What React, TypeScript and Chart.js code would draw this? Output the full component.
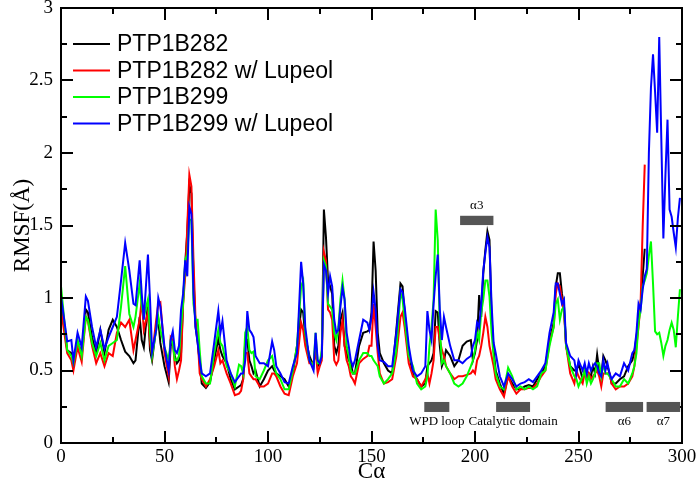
import React, { useEffect, useRef } from "react";
import { Chart, registerables } from "chart.js";

Chart.register(...registerables);

// Residue positions (Cα index)
const residues = [
  0, 3, 5, 6, 8, 10, 12, 13, 15, 17, 19, 21, 23, 25, 27, 29, 31, 33, 35, 36, 38, 39, 40, 42, 43, 44, 46, 47, 48,
  50, 52, 53, 54, 55, 56, 57, 58, 59, 60, 61, 62, 63, 64, 65, 66, 67, 68, 70, 72, 74, 76, 77, 78, 80, 82, 84, 86, 87, 88, 89, 90, 91, 92, 93, 94, 96, 98,
  100, 102, 103, 104, 106, 108, 110, 112, 114, 116, 117, 118, 120, 122, 123, 124, 125, 126, 127, 128, 129, 130, 131, 132, 133, 134, 135, 136, 137, 138, 139, 140, 141, 142, 144, 146, 148, 149,
  150, 151, 152, 153, 154, 156, 158, 160, 162, 164, 165, 166, 168, 170, 172, 174, 176, 177, 178, 179, 180, 181, 182, 183, 184, 185, 186, 188, 190, 192, 194, 196, 198, 199,
  200, 201, 202, 203, 204, 205, 206, 207, 208, 209, 210, 212, 214, 216, 218, 220, 222, 224, 226, 228, 230, 232, 234, 236, 238, 239, 240, 241, 242, 243, 244, 246, 248, 249,
  250, 252, 253, 254, 255, 256, 257, 258, 259, 260, 261, 262, 263, 264, 265, 266, 268, 270, 272, 274, 276, 277, 278, 279, 280, 281, 282,
  283, 284, 285, 286, 287, 288, 289, 290, 291, 292, 293, 294, 295, 296, 297, 298, 299,
];

const rmsfPTP1B282 = [
  1.00, 0.64, 0.62, 0.55, 0.70, 0.62, 0.92, 0.90, 0.73, 0.62, 0.78, 0.62, 0.78, 0.85, 0.80, 0.71, 0.63, 0.60, 0.55, 0.57, 0.87, 0.71, 0.66, 0.96, 0.64, 0.57, 0.80, 0.85, 0.69,
  0.53, 0.42, 0.67, 0.70, 0.60, 0.55, 0.57, 0.62, 0.98, 1.24, 1.45, 1.78, 1.72, 1.15, 0.80, 0.70, 0.55, 0.41, 0.38, 0.42, 0.57, 0.72, 0.64, 0.60, 0.55, 0.44, 0.37, 0.39, 0.40, 0.44, 0.70, 0.71, 0.57, 0.53, 0.48, 0.50, 0.39, 0.44,
  0.50, 0.53, 0.50, 0.48, 0.46, 0.44, 0.39, 0.48, 0.67, 0.92, 0.90, 0.73, 0.60, 0.53, 0.69, 0.53, 0.55, 0.60, 1.61, 1.42, 1.12, 1.08, 1.03, 0.67, 0.62, 0.67, 0.85, 0.90, 0.67, 0.62, 0.57, 0.55, 0.48, 0.48, 0.67, 0.76, 0.77, 0.78,
  0.90, 1.39, 1.19, 0.76, 0.62, 0.55, 0.50, 0.48, 0.78, 1.10, 1.08, 0.90, 0.62, 0.48, 0.44, 0.39, 0.41, 0.53, 0.55, 0.57, 0.62, 0.91, 0.90, 0.67, 0.53, 0.57, 0.64, 0.60, 0.53, 0.57, 0.67, 0.70, 0.71, 0.57,
  0.62, 0.71, 1.02, 0.87, 1.17, 1.33, 1.46, 1.40, 0.87, 0.64, 0.50, 0.41, 0.34, 0.46, 0.41, 0.37, 0.37, 0.39, 0.40, 0.39, 0.44, 0.48, 0.53, 0.71, 0.83, 1.08, 1.17, 1.17, 1.03, 0.94, 0.67, 0.53, 0.50, 0.50,
  0.55, 0.44, 0.50, 0.44, 0.48, 0.46, 0.53, 0.48, 0.61, 0.50, 0.46, 0.60, 0.57, 0.53, 0.48, 0.41, 0.41, 0.44, 0.46, 0.53, 0.57, 0.63, 0.73, 0.87, 0.96, 1.15, 1.34,
];

const rmsfPTP1B282Lupeol = [
  0.92, 0.62, 0.57, 0.50, 0.66, 0.56, 0.87, 0.84, 0.67, 0.55, 0.62, 0.53, 0.62, 0.60, 0.76, 0.83, 0.80, 0.85, 0.64, 0.71, 0.85, 0.99, 0.78, 0.90, 0.69, 0.60, 0.85, 0.96, 0.97,
  0.62, 0.46, 0.73, 0.71, 0.53, 0.44, 0.50, 0.57, 0.96, 1.15, 1.49, 1.85, 1.77, 1.26, 0.85, 0.73, 0.48, 0.44, 0.39, 0.44, 0.53, 0.64, 0.55, 0.57, 0.48, 0.41, 0.33, 0.34, 0.36, 0.44, 0.62, 0.62, 0.48, 0.46, 0.44, 0.44, 0.39, 0.39,
  0.41, 0.48, 0.48, 0.46, 0.39, 0.34, 0.33, 0.46, 0.55, 0.83, 0.78, 0.67, 0.55, 0.55, 0.64, 0.48, 0.53, 0.57, 1.32, 1.26, 0.92, 0.90, 0.85, 0.57, 0.54, 0.57, 0.76, 0.85, 0.67, 0.57, 0.53, 0.46, 0.44, 0.41, 0.55, 0.58, 0.60, 0.67,
  0.67, 0.96, 0.80, 0.62, 0.48, 0.41, 0.42, 0.44, 0.60, 0.87, 0.90, 0.80, 0.55, 0.46, 0.44, 0.39, 0.44, 0.48, 0.41, 0.48, 0.57, 0.80, 0.80, 0.71, 0.64, 0.60, 0.53, 0.48, 0.44, 0.46, 0.46, 0.47, 0.48, 0.50,
  0.48, 0.57, 0.60, 0.67, 0.76, 0.87, 0.80, 0.67, 0.60, 0.53, 0.44, 0.37, 0.32, 0.46, 0.39, 0.34, 0.37, 0.37, 0.38, 0.38, 0.41, 0.46, 0.50, 0.69, 0.80, 1.03, 1.10, 1.08, 0.99, 0.90, 0.67, 0.48, 0.41, 0.50,
  0.46, 0.41, 0.48, 0.44, 0.48, 0.44, 0.46, 0.48, 0.50, 0.46, 0.39, 0.48, 0.48, 0.48, 0.48, 0.41, 0.37, 0.39, 0.39, 0.41, 0.46, 0.53, 0.67, 0.80, 0.96, 1.49, 1.92,
];

const rmsfPTP1B299 = [
  1.08, 0.64, 0.60, 0.55, 0.71, 0.60, 0.87, 0.85, 0.69, 0.60, 0.69, 0.57, 0.67, 0.69, 0.71, 0.94, 1.22, 0.89, 0.80, 0.87, 1.10, 0.94, 0.87, 0.99, 0.76, 0.60, 0.78, 0.87, 0.78,
  0.66, 0.57, 0.71, 0.69, 0.57, 0.57, 0.60, 0.80, 0.96, 1.26, 1.30, 1.54, 1.54, 0.96, 0.85, 0.85, 0.64, 0.46, 0.41, 0.41, 0.62, 0.78, 0.69, 0.67, 0.53, 0.48, 0.39, 0.54, 0.53, 0.48, 0.76, 0.80, 0.64, 0.62, 0.63, 0.46, 0.44, 0.50,
  0.57, 0.60, 0.53, 0.48, 0.44, 0.37, 0.37, 0.50, 0.67, 1.08, 1.12, 0.76, 0.57, 0.53, 0.76, 0.55, 0.55, 0.64, 1.26, 1.22, 0.96, 0.94, 0.92, 0.76, 0.71, 0.80, 0.99, 1.12, 0.99, 0.67, 0.60, 0.50, 0.48, 0.48, 0.57, 0.62, 0.62, 0.60,
  0.60, 0.57, 0.55, 0.53, 0.46, 0.41, 0.44, 0.48, 0.64, 1.04, 0.99, 0.85, 0.60, 0.53, 0.41, 0.37, 0.39, 0.46, 0.67, 0.80, 0.99, 1.61, 1.40, 0.80, 0.55, 0.57, 0.53, 0.48, 0.41, 0.39, 0.41, 0.46, 0.53, 0.57,
  0.64, 0.76, 0.71, 0.90, 0.99, 1.12, 1.12, 1.01, 0.76, 0.60, 0.48, 0.39, 0.37, 0.52, 0.46, 0.37, 0.39, 0.37, 0.39, 0.37, 0.39, 0.48, 0.50, 0.67, 0.80, 0.96, 0.99, 0.85, 0.92, 0.94, 0.67, 0.53, 0.46, 0.44,
  0.39, 0.46, 0.50, 0.41, 0.46, 0.41, 0.44, 0.48, 0.55, 0.55, 0.46, 0.55, 0.48, 0.48, 0.46, 0.44, 0.39, 0.39, 0.44, 0.41, 0.48, 0.53, 0.62, 0.83, 0.92, 1.08, 1.12,
  1.17, 1.29, 1.39, 1.10, 0.77, 0.75, 0.76, 0.69, 0.60, 0.67, 0.71, 0.78, 0.83, 0.78, 0.66, 0.87, 1.06,
];

const rmsfPTP1B299Lupeol = [
  1.01, 0.70, 0.71, 0.57, 0.76, 0.66, 1.01, 0.98, 0.80, 0.66, 0.78, 0.65, 0.73, 0.80, 0.87, 1.12, 1.38, 1.19, 0.96, 0.95, 1.26, 1.03, 0.85, 1.30, 0.99, 0.63, 0.78, 1.00, 0.94,
  0.66, 0.50, 0.71, 0.77, 0.64, 0.62, 0.67, 0.92, 1.03, 1.26, 1.15, 1.63, 1.58, 1.03, 0.80, 0.69, 0.57, 0.48, 0.46, 0.48, 0.69, 0.91, 0.76, 0.84, 0.57, 0.48, 0.42, 0.46, 0.48, 0.48, 0.57, 0.91, 0.78, 0.76, 0.73, 0.60, 0.55, 0.55,
  0.53, 0.70, 0.64, 0.53, 0.48, 0.42, 0.41, 0.53, 0.62, 1.25, 1.10, 0.80, 0.57, 0.50, 0.76, 0.57, 0.55, 0.60, 1.23, 1.19, 1.03, 1.15, 1.08, 0.85, 0.76, 0.78, 0.94, 1.07, 0.99, 0.76, 0.67, 0.57, 0.53, 0.57, 0.71, 0.85, 0.83, 0.78,
  0.87, 1.04, 0.92, 0.67, 0.57, 0.56, 0.53, 0.53, 0.76, 1.06, 1.04, 0.94, 0.67, 0.50, 0.46, 0.48, 0.53, 0.91, 0.78, 0.71, 0.96, 1.15, 1.30, 0.92, 0.71, 0.87, 0.80, 0.67, 0.57, 0.57, 0.55, 0.58, 0.60, 0.67,
  0.71, 0.83, 0.80, 0.96, 1.19, 1.31, 1.42, 1.35, 0.96, 0.69, 0.62, 0.46, 0.39, 0.48, 0.44, 0.39, 0.41, 0.42, 0.44, 0.42, 0.46, 0.50, 0.55, 0.76, 0.90, 1.10, 1.10, 1.03, 0.96, 0.99, 0.69, 0.60, 0.57, 0.48,
  0.57, 0.50, 0.55, 0.48, 0.55, 0.50, 0.53, 0.55, 0.53, 0.48, 0.46, 0.57, 0.50, 0.55, 0.48, 0.44, 0.48, 0.46, 0.55, 0.50, 0.62, 0.64, 0.76, 0.96, 0.92, 1.06, 1.15,
  1.20, 2.00, 2.45, 2.68, 2.42, 2.14, 2.80, 2.10, 1.41, 1.85, 2.23, 1.61, 1.56, 1.45, 1.35, 1.55, 1.69,
];

const seriesLabels = ["PTP1B282", "PTP1B282 w/ Lupeol", "PTP1B299", "PTP1B299 w/ Lupeol"];
const seriesColors = ["#000000", "#ff0000", "#00ff00", "#0000ff"];

// Structural regions (residue ranges)
const regionLabels = ["WPD loop", "Catalytic domain", "α6", "α7", "α3"];
const regionStart = [175.5, 210.2, 263.1, 282.9, 192.8];
const regionEnd = [187.6, 226.6, 281.2, 299.1, 208.9];

const xTickValues = [0, 50, 100, 150, 200, 250, 300];
const yTickValues = [0, 0.5, 1, 1.5, 2, 2.5, 3];

function toPoints(values: number[]) {
  return values.map((v, i) => ({ x: residues[i], y: v }));
}

const framePlugin = {
  id: "frameTicks",
  afterDraw(chart: any) {
    const { ctx, chartArea: a, scales } = chart;
    const xs = scales.x;
    const ys = scales.y;
    ctx.save();
    ctx.strokeStyle = "#000";
    ctx.lineWidth = 2;
    ctx.strokeRect(a.left, a.top, a.right - a.left, a.bottom - a.top);
    ctx.beginPath();
    for (let v = 0; v <= 300; v += 25) {
      const px = Math.round(xs.getPixelForValue(v));
      const len = v % 50 === 0 ? 12 : 6;
      ctx.moveTo(px, a.bottom);
      ctx.lineTo(px, a.bottom - len);
      ctx.moveTo(px, a.top);
      ctx.lineTo(px, a.top + len);
    }
    for (let k = 0; k <= 12; k++) {
      const v = k * 0.25;
      const py = Math.round(ys.getPixelForValue(v));
      const len = k % 2 === 0 ? 12 : 6;
      ctx.moveTo(a.left, py);
      ctx.lineTo(a.left + len, py);
      ctx.moveTo(a.right, py);
      ctx.lineTo(a.right - len, py);
    }
    ctx.stroke();

    // region bars
    ctx.font = '13px "Liberation Serif", "Times New Roman", serif';
    ctx.textAlign = "center";
    ctx.textBaseline = "middle";
    for (let i = 0; i < regionLabels.length; i++) {
      const isTop = regionLabels[i] === "α3";
      const yHi = isTop ? 1.567 : 0.283;
      const yLo = isTop ? 1.503 : 0.214;
      const x0 = xs.getPixelForValue(regionStart[i]);
      const x1 = xs.getPixelForValue(regionEnd[i]);
      const y0 = ys.getPixelForValue(yHi);
      const y1 = ys.getPixelForValue(yLo);
      ctx.fillStyle = "#555555";
      ctx.fillRect(x0, y0, x1 - x0, y1 - y0);
      ctx.fillStyle = "#000";
      const ly = isTop ? ys.getPixelForValue(1.635) : ys.getPixelForValue(0.148);
      ctx.fillText(regionLabels[i], (x0 + x1) / 2, ly);
    }

    // legend
    ctx.font = '23px "Liberation Sans", Arial, sans-serif';
    ctx.textAlign = "left";
    ctx.textBaseline = "middle";
    for (let i = 0; i < seriesLabels.length; i++) {
      const ry = 44 + i * 26.5;
      ctx.strokeStyle = seriesColors[i];
      ctx.lineWidth = 2;
      ctx.beginPath();
      ctx.moveTo(73, ry);
      ctx.lineTo(110, ry);
      ctx.stroke();
      ctx.fillStyle = "#000";
      ctx.fillText(seriesLabels[i], 117, ry + 1);
    }
    ctx.restore();
  },
};

export default function App() {
  const ref = useRef<HTMLCanvasElement | null>(null);
  useEffect(() => {
    document.body.style.margin = "0";
    const canvas = ref.current;
    if (!canvas) return;
    const values = [rmsfPTP1B282, rmsfPTP1B282Lupeol, rmsfPTP1B299, rmsfPTP1B299Lupeol];
    const chart = new Chart(canvas, {
      type: "line",
      data: {
        datasets: values.map((vals, i) => ({
          label: seriesLabels[i],
          data: toPoints(vals),
          borderColor: seriesColors[i],
          backgroundColor: seriesColors[i],
          borderWidth: 2,
          pointRadius: 0,
          tension: 0,
          fill: false,
          order: 3 - i,
        })),
      },
      options: {
        animation: false,
        responsive: false,
        maintainAspectRatio: false,
        layout: { padding: { top: 8, right: 18, left: 0, bottom: 0 } },
        plugins: { legend: { display: false }, tooltip: { enabled: false } },
        scales: {
          x: {
            type: "linear",
            min: 0,
            max: 300,
            afterBuildTicks: (s: any) => {
              s.ticks = xTickValues.map((v) => ({ value: v }));
            },
            grid: { display: false, drawTicks: false },
            border: { display: false },
            ticks: {
              color: "#000",
              padding: 3,
              maxRotation: 0,
              callback: (v: any) => String(v),
              font: { family: '"Liberation Serif", "Times New Roman", serif', size: 19 },
            },
            title: {
              display: true,
              text: "Cα",
              color: "#000",
              padding: { top: 0, bottom: 3 },
              font: { family: '"Liberation Serif", "Times New Roman", serif', size: 23 },
            },
            afterFit: (s: any) => {
              s.height = 46;
              s.paddingLeft = 0;
              s.paddingRight = 0;
            },
          },
          y: {
            min: 0,
            max: 3,
            afterBuildTicks: (s: any) => {
              s.ticks = yTickValues.map((v) => ({ value: v }));
            },
            grid: { display: false, drawTicks: false },
            border: { display: false },
            ticks: {
              color: "#000",
              padding: 8,
              callback: (v: any) => String(v),
              font: { family: '"Liberation Serif", "Times New Roman", serif', size: 19 },
            },
            title: {
              display: true,
              text: "RMSF(Å)",
              color: "#000",
              padding: { top: 9, bottom: 0 },
              font: { family: '"Liberation Serif", "Times New Roman", serif', size: 23 },
            },
            afterFit: (s: any) => {
              s.width = 61;
              s.paddingTop = 0;
              s.paddingBottom = 0;
            },
          },
        },
      },
      plugins: [framePlugin],
    } as any);
    return () => chart.destroy();
  }, []);
  return (
    <div style={{ width: 700, height: 489 }}>
      <canvas ref={ref} width={700} height={489} style={{ display: "block", width: 700, height: 489 }} />
    </div>
  );
}
